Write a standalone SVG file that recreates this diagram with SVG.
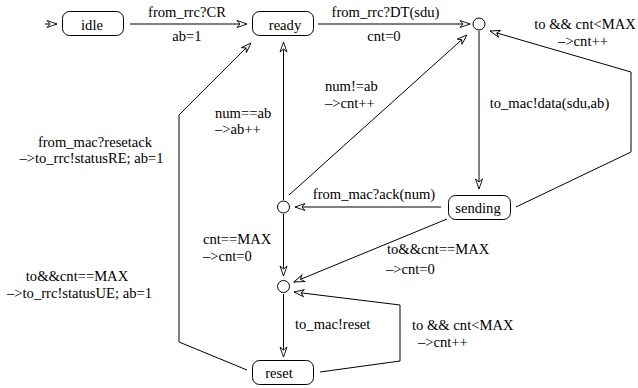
<svg xmlns="http://www.w3.org/2000/svg" width="638" height="388" viewBox="0 0 638 388">
  <style>
    .lbl { font-family: 'Liberation Serif', 'DejaVu Serif', serif; font-size: 14.6px; fill: #000; }
    .mid { text-anchor: middle; }
    .state { fill: #fff; stroke: #000; stroke-width: 1; }
    .junction { fill: #fff; stroke: #000; stroke-width: 1; }
    .edge { fill: none; stroke: #000; stroke-width: 1; marker-end: url(#arrow); }
  </style>
  <defs>
    <!-- open stealth arrowhead -->
    <marker id="arrow" markerUnits="userSpaceOnUse" markerWidth="14" markerHeight="10" viewBox="-12 -5 14 10" refX="0" refY="0" orient="auto">
      <path d="M-10,-3.5 L0,0 L-10,3.5 L-7,0 Z" fill="#fff" stroke="#000" stroke-width="0.9" stroke-linejoin="miter"/>
    </marker>
  </defs>

  <rect width="638" height="388" fill="#fff"/>

  <!-- transitions -->
  <g id="connectors">
    <path class="edge" d="M45,24 L57,24"/>
    <path class="edge" d="M130,24 L247,24"/>
    <path class="edge" d="M318,24 L470,24"/>
    <path class="edge" d="M479,31 L479,189"/>
    <path class="edge" d="M516,207 L631,152 L631,72 L490,31"/>
    <path class="edge" d="M441,207 L295,207"/>
    <path class="edge" d="M283.5,200 L283.5,42"/>
    <path class="edge" d="M289,195 L467,35"/>
    <path class="edge" d="M283.5,214 L283.5,276"/>
    <path class="edge" d="M447,219 L294,282"/>
    <path class="edge" d="M283.5,294 L283.5,357"/>
    <path class="edge" d="M320,372 L400,361 L400,305 L294,292"/>
    <path class="edge" d="M247,370 L179,342 L179,115 L251,43"/>
  </g>

  <!-- transition labels -->
  <g id="labels" class="lbl">
    <text class="mid" x="187" y="17">from_rrc?CR</text>
    <text class="mid" x="187" y="41">ab=1</text>
    <text class="mid" x="385.5" y="17">from_rrc?DT(sdu)</text>
    <text class="mid" x="384" y="41">cnt=0</text>
    <text class="mid" x="585" y="29">to &amp;&amp; cnt&lt;MAX</text>
    <text class="mid" x="583" y="46">–&gt;cnt++</text>
    <text class="mid" x="549.5" y="108">to_mac!data(sdu,ab)</text>
    <text x="325" y="91">num!=ab</text>
    <text x="325" y="108">–&gt;cnt++</text>
    <text x="215" y="118">num==ab</text>
    <text x="215" y="134">–&gt;ab++</text>
    <text class="mid" x="374" y="199">from_mac?ack(num)</text>
    <text x="203" y="244">cnt==MAX</text>
    <text x="203" y="261">–&gt;cnt=0</text>
    <text x="387" y="254">to&amp;&amp;cnt==MAX</text>
    <text x="386" y="274">–&gt;cnt=0</text>
    <text x="295" y="329">to_mac!reset</text>
    <text x="412" y="330">to &amp;&amp; cnt&lt;MAX</text>
    <text x="418" y="347">–&gt;cnt++</text>
    <text class="mid" x="95" y="147">from_mac?resetack</text>
    <text class="mid" x="91.5" y="163">–&gt;to_rrc!statusRE; ab=1</text>
    <text class="mid" x="77" y="281">to&amp;&amp;cnt==MAX</text>
    <text class="mid" x="79.5" y="298">–&gt;to_rrc!statusUE; ab=1</text>
  </g>

  <!-- states -->
  <g id="idle">
    <rect class="state" x="62.5" y="11.5" width="61" height="24" rx="7"/>
    <text class="lbl mid" x="92" y="30">idle</text>
  </g>
  <g id="ready">
    <rect class="state" x="252.5" y="11.5" width="61" height="24" rx="7"/>
    <text class="lbl mid" x="285" y="30">ready</text>
  </g>
  <g id="sending">
    <rect class="state" x="448.5" y="195.5" width="62" height="24" rx="7"/>
    <text class="lbl mid" x="478" y="213">sending</text>
  </g>
  <g id="reset">
    <rect class="state" x="252.5" y="360.5" width="61" height="24" rx="7"/>
    <text class="lbl mid" x="279" y="378">reset</text>
  </g>

  <!-- junction points -->
  <g id="j_data">
    <circle class="junction" cx="479" cy="24" r="6"/>
  </g>
  <g id="j_ack">
    <circle class="junction" cx="283.5" cy="207" r="6"/>
  </g>
  <g id="j_reset">
    <circle class="junction" cx="283.5" cy="286.5" r="6"/>
  </g>
</svg>
